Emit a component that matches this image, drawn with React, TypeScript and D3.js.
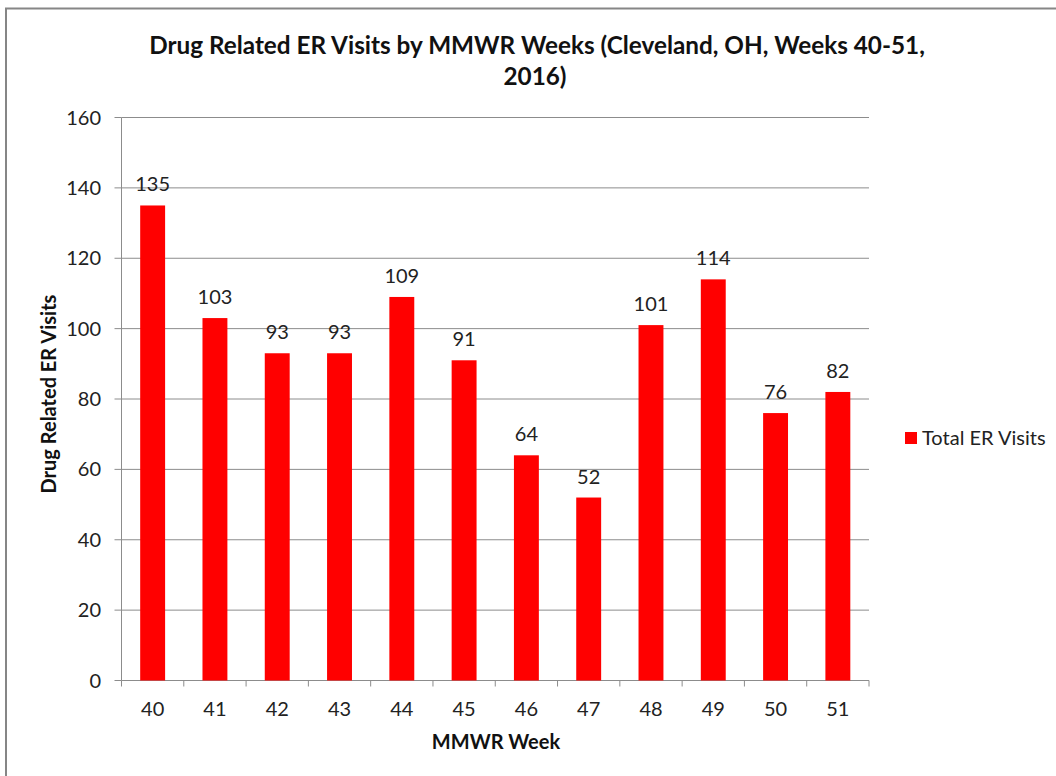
import React from "react";
import * as d3 from "d3";

const weeks = ["40", "41", "42", "43", "44", "45", "46", "47", "48", "49", "50", "51"];
const visits = [135, 103, 93, 93, 109, 91, 64, 52, 101, 114, 76, 82];
const yTicks = [0, 20, 40, 60, 80, 100, 120, 140, 160];
const titleLines = ["Drug Related ER Visits by MMWR Weeks (Cleveland, OH, Weeks 40-51,", "2016)"];
const seriesName = "Total ER Visits";

const W = 1056;
const H = 776;
const plot = { left: 121.5, right: 869, top: 117.5, bottom: 680.5 };
const FONT = "Lato, 'Open Sans', sans-serif";

export default function App() {
  const x = d3.scaleBand<string>().domain(weeks).range([plot.left, plot.right]).paddingInner(0.6).paddingOuter(0.3);
  const y = d3.scaleLinear().domain([0, 160]).range([plot.bottom, plot.top]);
  const step = (plot.right - plot.left) / weeks.length;
  const gridColor = "#8c8c8c";
  const textColor = "#222";
  return (
    <svg width={W} height={H} style={{ position: "absolute", left: 0, top: 0, background: "#fff" }} fontFamily={FONT}>
      <rect x={6} y={8.5} width={W + 20} height={H + 20} fill="#fff" stroke="#868686" strokeWidth={2} />
      {titleLines.map((t, i) => (
        <text key={i} x={i === 0 ? 537 : 535} y={54 + i * 31} textAnchor="middle" fontWeight="bold" fontSize={24.3} fill="#111">
          {t}
        </text>
      ))}
      {yTicks.map((t) => (
        <g key={t}>
          {t > 0 && <line x1={plot.left} x2={plot.right} y1={y(t)} y2={y(t)} stroke={gridColor} strokeWidth={1} />}
          <line x1={plot.left - 7} x2={plot.left} y1={y(t)} y2={y(t)} stroke={gridColor} strokeWidth={1} />
          <text x={101} y={y(t) + 7} textAnchor="end" fontSize={20} fill={textColor}>
            {t}
          </text>
        </g>
      ))}
      <line x1={plot.left} x2={plot.left} y1={plot.top} y2={plot.bottom} stroke={gridColor} strokeWidth={1} />
      <line x1={plot.left} x2={plot.right} y1={plot.bottom} y2={plot.bottom} stroke={gridColor} strokeWidth={1} />
      {d3.range(weeks.length + 1).map((i) => (
        <line key={i} x1={plot.left + i * step} x2={plot.left + i * step} y1={plot.bottom} y2={plot.bottom + 6} stroke={gridColor} strokeWidth={1} />
      ))}
      {weeks.map((w, i) => (
        <g key={w}>
          <rect x={x(w)!} y={y(visits[i])} width={x.bandwidth()} height={plot.bottom - y(visits[i])} fill="#ff0000" />
          <text x={x(w)! + x.bandwidth() / 2} y={y(visits[i]) - 14} textAnchor="middle" fontSize={20} fill={textColor}>
            {visits[i]}
          </text>
          <text x={x(w)! + x.bandwidth() / 2} y={716} textAnchor="middle" fontSize={20} fill={textColor}>
            {w}
          </text>
        </g>
      ))}
      <text x={496} y={749} textAnchor="middle" fontWeight="bold" fontSize={20} fill="#111">
        MMWR Week
      </text>
      <text transform={`translate(56, ${394}) rotate(-90)`} textAnchor="middle" fontWeight="bold" fontSize={20} fill="#111">
        Drug Related ER Visits
      </text>
      <rect x={905} y={432} width={12} height={12} fill="#ff0000" />
      <text x={922} y={445} fontSize={20} fill={textColor}>
        {seriesName}
      </text>
    </svg>
  );
}
